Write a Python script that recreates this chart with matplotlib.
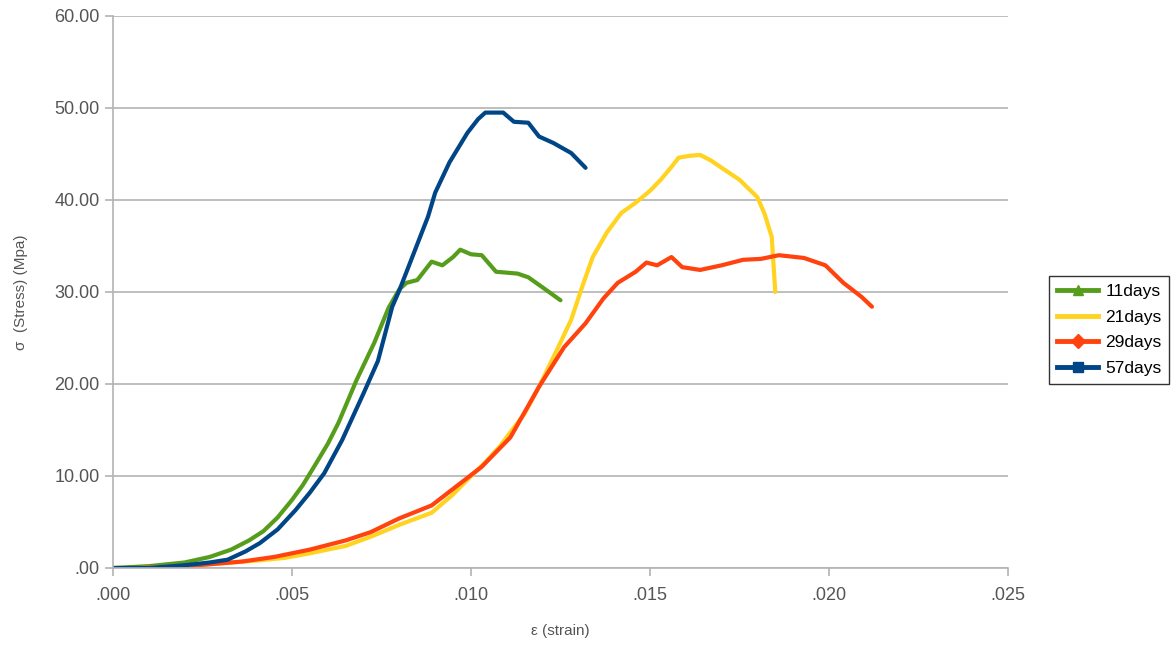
import matplotlib
matplotlib.use("Agg")
import numpy as np
from matplotlib import pyplot as plt
from matplotlib.lines import Line2D

plt.rcParams['font.family'] = ['Liberation Sans', 'DejaVu Sans']

# 11 days
strain_11 = [0.0, .001, .002, .0027, .0033, .0038, .0042, .0046, .0050, .0053, .0056, .0060,
             .0063, .0068, .0073, .0077, .0080, .0082, .0085, .0089, .0092, .0095, .0097,
             .0100, .0103, .0107, .0113, .0116, .0120, .0125]
stress_11 = [0.0, 0.2, 0.6, 1.2, 2.0, 3.0, 4.0, 5.5, 7.4, 9.0, 10.9, 13.5,
             15.8, 20.4, 24.5, 28.3, 30.3, 31.0, 31.3, 33.3, 32.9, 33.8, 34.6,
             34.1, 34.0, 32.2, 32.0, 31.6, 30.5, 29.1]

# 21 days
strain_21 = [.0008, .002, .003, .004, .0048, .0055, .0065, .0072, .0080, .0089, .0095, .0099,
             .0104, .0108, .0115, .0119, .0124, .0128, .0131, .0134, .0138, .0142, .0146,
             .0150, .0153, .0156, .0158, .0161, .0164, .0167, .0170, .0175, .0180, .0182,
             .0184, .0185]
stress_21 = [0.0, 0.2, 0.5, 0.8, 1.1, 1.6, 2.4, 3.4, 4.7, 6.0, 8.0, 9.6,
             11.5, 13.2, 16.8, 19.7, 23.7, 27.0, 30.5, 33.8, 36.5, 38.6, 39.7,
             41.0, 42.2, 43.6, 44.6, 44.8, 44.9, 44.3, 43.5, 42.2, 40.3, 38.5,
             36.0, 30.0]

# 29 days
strain_29 = [.0008, .002, .0030, .0036, .0045, .0055, .0065, .0072, .0080, .0089, .0094, .0103,
             .0111, .0119, .0126, .0132, .0137, .0141, .0146, .0149, .0152, .0156, .0159,
             .0164, .0170, .0176, .0181, .0186, .0193, .0199, .0204, .0209, .0212]
stress_29 = [0.0, 0.2, 0.5, 0.7, 1.2, 2.0, 3.0, 3.9, 5.4, 6.8, 8.3, 11.0,
             14.2, 19.7, 24.0, 26.6, 29.3, 31.0, 32.2, 33.2, 32.9, 33.8, 32.7,
             32.4, 32.9, 33.5, 33.6, 34.0, 33.7, 32.9, 31.0, 29.5, 28.4]

# 57 days
strain_57 = [0.0, .001, .002, .0027, .0032, .0037, .0041, .0046, .0051, .0055, .0059, .0064,
             .0070, .0074, .0078, .0080, .0083, .0086, .0088, .0090, .0094, .0099, .0102,
             .0104, .0109, .0112, .0116, .0119, .0123, .0128, .0132]
stress_57 = [0.0, 0.0, 0.3, 0.6, 0.9, 1.8, 2.7, 4.2, 6.3, 8.2, 10.3, 13.9,
             19.0, 22.5, 28.4, 30.2, 33.2, 36.2, 38.2, 40.8, 44.1, 47.3, 48.8,
             49.5, 49.5, 48.5, 48.4, 46.9, 46.2, 45.1, 43.5]

labels = ['11days', '21days', '29days', '57days']
colors = ['#579d1c', '#ffd320', '#ff420e', '#004586']
markers = ['^', None, 'D', 's']
xticks = [0.0, 0.005, 0.010, 0.015, 0.020, 0.025]
yticks = [0, 10, 20, 30, 40, 50, 60]

fig = plt.figure(figsize=(11.75, 6.45), dpi=100)
ax = fig.add_axes([113 / 1175, 77 / 645, 895 / 1175, 552 / 645])

series = [(strain_11, stress_11), (strain_21, stress_21),
          (strain_29, stress_29), (strain_57, stress_57)]
for (x, y), c in zip(series, colors):
    ax.plot(x, y, color=c, lw=3.0, solid_capstyle='round', solid_joinstyle='round')

ax.set_xlim(0, 0.025)
ax.set_ylim(0, 60)
ax.set_xticks(xticks)
ax.set_yticks(yticks)
ax.set_xticklabels(['.000' if v == 0 else ('%.3f' % v)[1:] for v in xticks])
ax.set_yticklabels(['.00' if v == 0 else '%.2f' % v for v in yticks])
ax.tick_params(colors='#b3b3b3', labelcolor='#555555', labelsize=13, length=6, width=1.2)
ax.tick_params(axis='x', pad=8)
ax.grid(axis='y', color='#b3b3b3', lw=1.2)
ax.set_axisbelow(True)
for s in ['top', 'right']:
    ax.spines[s].set_visible(False)
for s in ['left', 'bottom']:
    ax.spines[s].set_color('#b3b3b3')
    ax.spines[s].set_linewidth(1.2)

ax.set_xlabel('ε (strain)', color='#555555', fontsize=11, labelpad=14)
ax.set_ylabel('σ  (Stress) (Mpa)', color='#555555', fontsize=11, labelpad=19)

handles = [Line2D([], [], color=c, lw=3.5, marker=m, markersize=7) for c, m in zip(colors, markers)]
leg = fig.legend(handles, labels, loc='center left', bbox_to_anchor=(1049 / 1175, 315 / 645),
                 fontsize=12.5, frameon=True, fancybox=False, handlelength=2.4,
                 borderpad=0.45, labelspacing=0.6, handletextpad=0.4, borderaxespad=0)
leg.get_frame().set_edgecolor('black')
leg.get_frame().set_linewidth(1.0)

fig.savefig('out.png', dpi=100)
